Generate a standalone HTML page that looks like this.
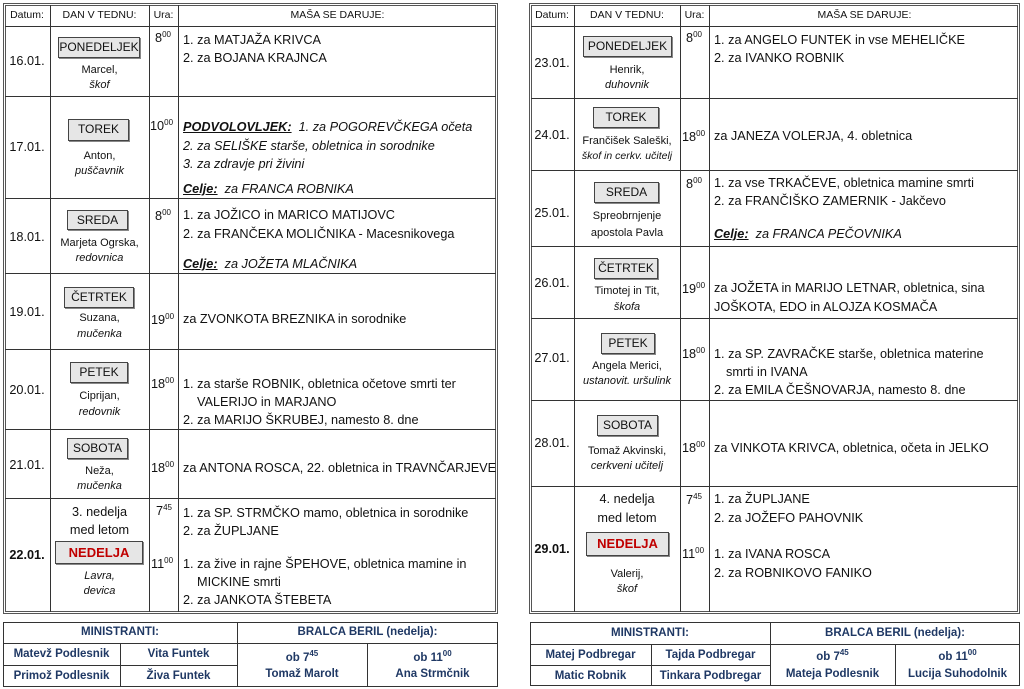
<!DOCTYPE html><html><head><meta charset="utf-8"><style>
body{margin:0;width:1024px;height:689px;background:#fff;position:relative;overflow:hidden;font-family:"Liberation Sans",sans-serif;color:#111}
.t{position:absolute;white-space:nowrap;line-height:14px;font-size:12.7px}
.c{text-align:center}
.h{font-size:10.5px}
.s{font-size:11px}
.i{font-style:italic}
.b{position:absolute;background:#e6e6e6;border:1px solid #444;box-shadow:1px 1px 0 #888;text-align:center;font-size:12px;line-height:18px;box-sizing:border-box}
.lv,.lh{position:absolute;background:#333}
.lv{width:1px}.lh{height:1px}
.o{position:absolute;border:3px double #555;box-sizing:border-box}
.f{position:absolute;border:1px solid #333;box-sizing:border-box}
.n{position:absolute;white-space:nowrap;line-height:14px;font-size:11.5px;font-weight:bold;color:#1f3864;text-align:center}
sup{font-size:8px;vertical-align:5px;line-height:0}
u{font-weight:bold}
</style></head><body>
<!-- LEFT TABLE -->
<div class="o" style="left:3px;top:3px;width:495px;height:611px"></div>
<div class="lv" style="left:50px;top:5px;height:607px"></div>
<div class="lv" style="left:149px;top:5px;height:607px"></div>
<div class="lv" style="left:178px;top:5px;height:607px"></div>
<div class="lh" style="left:5px;top:26px;width:491px"></div>
<div class="lh" style="left:5px;top:96px;width:491px"></div>
<div class="lh" style="left:5px;top:198px;width:491px"></div>
<div class="lh" style="left:5px;top:273px;width:491px"></div>
<div class="lh" style="left:5px;top:349px;width:491px"></div>
<div class="lh" style="left:5px;top:429px;width:491px"></div>
<div class="lh" style="left:5px;top:498px;width:491px"></div>
<div class="t c h" style="left:4px;width:46px;top:8px">Datum:</div>
<div class="t c h" style="left:50px;width:99px;top:8px">DAN V TEDNU:</div>
<div class="t c h" style="left:149px;width:29px;top:8px">Ura:</div>
<div class="t c h" style="left:178px;width:319px;top:8px">MAŠA SE DARUJE:</div>

<div class="t c" style="left:4px;width:46px;top:54px">16.01.</div>
<div class="b" style="left:58px;top:37px;width:82px;height:21px">PONEDELJEK</div>
<div class="t c s" style="left:50px;width:99px;top:63px">Marcel,</div>
<div class="t c s i" style="left:50px;width:99px;top:78px">škof</div>
<div class="t" style="left:155px;top:31px">8<sup>00</sup></div>
<div class="t" style="left:183px;top:33px">1. za MATJAŽA KRIVCA</div>
<div class="t" style="left:183px;top:51px">2. za BOJANA KRAJNCA</div>

<div class="t c" style="left:4px;width:46px;top:140px">17.01.</div>
<div class="b" style="left:68px;top:119px;width:61px;height:22px">TOREK</div>
<div class="t c s" style="left:50px;width:99px;top:149px">Anton,</div>
<div class="t c s i" style="left:50px;width:99px;top:164px">puščavnik</div>
<div class="t" style="left:150px;top:119px">10<sup>00</sup></div>
<div class="t i" style="left:183px;top:120px"><u>PODVOLOVLJEK:</u>&nbsp; 1. za POGOREVČKEGA očeta</div>
<div class="t i" style="left:183px;top:139px">2. za SELIŠKE starše, obletnica in sorodnike</div>
<div class="t i" style="left:183px;top:157px">3. za zdravje pri živini</div>
<div class="t i" style="left:183px;top:182px"><u>Celje:</u>&nbsp; za FRANCA ROBNIKA</div>

<div class="t c" style="left:4px;width:46px;top:230px">18.01.</div>
<div class="b" style="left:67px;top:210px;width:61px;height:20px">SREDA</div>
<div class="t c s" style="left:50px;width:99px;top:236px">Marjeta Ogrska,</div>
<div class="t c s i" style="left:50px;width:99px;top:251px">redovnica</div>
<div class="t" style="left:155px;top:209px">8<sup>00</sup></div>
<div class="t" style="left:183px;top:208px">1. za JOŽICO in MARICO MATIJOVC</div>
<div class="t" style="left:183px;top:227px">2. za FRANČEKA MOLIČNIKA - Macesnikovega</div>
<div class="t i" style="left:183px;top:257px"><u>Celje:</u>&nbsp; za JOŽETA MLAČNIKA</div>

<div class="t c" style="left:4px;width:46px;top:305px">19.01.</div>
<div class="b" style="left:64px;top:287px;width:70px;height:21px">ČETRTEK</div>
<div class="t c s" style="left:50px;width:99px;top:311px">Suzana,</div>
<div class="t c s i" style="left:50px;width:99px;top:327px">mučenka</div>
<div class="t" style="left:151px;top:313px">19<sup>00</sup></div>
<div class="t" style="left:183px;top:312px">za ZVONKOTA BREZNIKA in sorodnike</div>

<div class="t c" style="left:4px;width:46px;top:383px">20.01.</div>
<div class="b" style="left:70px;top:362px;width:58px;height:21px">PETEK</div>
<div class="t c s" style="left:50px;width:99px;top:389px">Ciprijan,</div>
<div class="t c s i" style="left:50px;width:99px;top:405px">redovnik</div>
<div class="t" style="left:151px;top:377px">18<sup>00</sup></div>
<div class="t" style="left:183px;top:377px">1. za starše ROBNIK, obletnica očetove smrti ter</div>
<div class="t" style="left:197px;top:395px">VALERIJO in MARJANO</div>
<div class="t" style="left:183px;top:413px">2. za MARIJO ŠKRUBEJ, namesto 8. dne</div>

<div class="t c" style="left:4px;width:46px;top:458px">21.01.</div>
<div class="b" style="left:67px;top:438px;width:61px;height:21px">SOBOTA</div>
<div class="t c s" style="left:50px;width:99px;top:464px">Neža,</div>
<div class="t c s i" style="left:50px;width:99px;top:479px">mučenka</div>
<div class="t" style="left:151px;top:461px">18<sup>00</sup></div>
<div class="t" style="left:183px;top:461px">za ANTONA ROSCA, 22. obletnica in TRAVNČARJEVE</div>

<div class="t c" style="left:4px;width:46px;top:548px;font-weight:bold">22.01.</div>
<div class="t c" style="left:50px;width:99px;top:505px">3. nedelja</div>
<div class="t c" style="left:50px;width:99px;top:523px">med letom</div>
<div class="b" style="left:55px;top:541px;width:88px;height:23px;color:#c00000;font-weight:bold;font-size:13px;line-height:21px">NEDELJA</div>
<div class="t c s i" style="left:50px;width:99px;top:569px">Lavra,</div>
<div class="t c s i" style="left:50px;width:99px;top:584px">devica</div>
<div class="t" style="left:156px;top:504px">7<sup>45</sup></div>
<div class="t" style="left:151px;top:557px">11<sup>00</sup></div>
<div class="t" style="left:183px;top:506px">1. za SP. STRMČKO mamo, obletnica in sorodnike</div>
<div class="t" style="left:183px;top:524px">2. za ŽUPLJANE</div>
<div class="t" style="left:183px;top:557px">1. za žive in rajne ŠPEHOVE, obletnica mamine in</div>
<div class="t" style="left:197px;top:575px">MICKINE smrti</div>
<div class="t" style="left:183px;top:593px">2. za JANKOTA ŠTEBETA</div>

<!-- LEFT FOOTER -->
<div class="f" style="left:3px;top:622px;width:495px;height:65px"></div>
<div class="lh" style="left:3px;top:643px;width:495px"></div>
<div class="lh" style="left:3px;top:665px;width:234px"></div>
<div class="lv" style="left:120px;top:643px;height:44px"></div>
<div class="lv" style="left:237px;top:622px;height:65px"></div>
<div class="lv" style="left:367px;top:643px;height:44px"></div>
<div class="n" style="left:3px;width:234px;top:625px">MINISTRANTI:</div>
<div class="n" style="left:237px;width:261px;top:625px">BRALCA BERIL (nedelja):</div>
<div class="n" style="left:3px;width:117px;top:647px">Matevž Podlesnik</div>
<div class="n" style="left:120px;width:117px;top:647px">Vita Funtek</div>
<div class="n" style="left:3px;width:117px;top:669px">Primož Podlesnik</div>
<div class="n" style="left:120px;width:117px;top:669px">Živa Funtek</div>
<div class="n" style="left:237px;width:130px;top:651px">ob 7<sup>45</sup></div>
<div class="n" style="left:237px;width:130px;top:667px">Tomaž Marolt</div>
<div class="n" style="left:367px;width:131px;top:651px">ob 11<sup>00</sup></div>
<div class="n" style="left:367px;width:131px;top:667px">Ana Strmčnik</div>

<!-- RIGHT TABLE -->
<div class="o" style="left:529px;top:3px;width:491px;height:611px"></div>
<div class="lv" style="left:574px;top:5px;height:607px"></div>
<div class="lv" style="left:680px;top:5px;height:607px"></div>
<div class="lv" style="left:709px;top:5px;height:607px"></div>
<div class="lh" style="left:531px;top:26px;width:487px"></div>
<div class="lh" style="left:531px;top:98px;width:487px"></div>
<div class="lh" style="left:531px;top:170px;width:487px"></div>
<div class="lh" style="left:531px;top:246px;width:487px"></div>
<div class="lh" style="left:531px;top:318px;width:487px"></div>
<div class="lh" style="left:531px;top:400px;width:487px"></div>
<div class="lh" style="left:531px;top:486px;width:487px"></div>
<div class="t c h" style="left:530px;width:44px;top:8px">Datum:</div>
<div class="t c h" style="left:574px;width:106px;top:8px">DAN V TEDNU:</div>
<div class="t c h" style="left:680px;width:29px;top:8px">Ura:</div>
<div class="t c h" style="left:709px;width:311px;top:8px">MAŠA SE DARUJE:</div>

<div class="t c" style="left:530px;width:44px;top:56px">23.01.</div>
<div class="b" style="left:583px;top:36px;width:89px;height:21px">PONEDELJEK</div>
<div class="t c s" style="left:574px;width:106px;top:63px">Henrik,</div>
<div class="t c s i" style="left:574px;width:106px;top:78px">duhovnik</div>
<div class="t" style="left:686px;top:31px">8<sup>00</sup></div>
<div class="t" style="left:714px;top:33px">1. za ANGELO FUNTEK in vse MEHELIČKE</div>
<div class="t" style="left:714px;top:51px">2. za IVANKO ROBNIK</div>

<div class="t c" style="left:530px;width:44px;top:128px">24.01.</div>
<div class="b" style="left:593px;top:107px;width:66px;height:21px">TOREK</div>
<div class="t c s" style="left:574px;width:106px;top:134px">Frančišek Saleški,</div>
<div class="t c s i" style="left:574px;width:106px;top:149px;font-size:10.5px">škof in cerkv. učitelj</div>
<div class="t" style="left:682px;top:130px">18<sup>00</sup></div>
<div class="t" style="left:714px;top:129px">za JANEZA VOLERJA, 4. obletnica</div>

<div class="t c" style="left:530px;width:44px;top:206px">25.01.</div>
<div class="b" style="left:594px;top:182px;width:65px;height:21px">SREDA</div>
<div class="t c s" style="left:574px;width:106px;top:209px">Spreobrnjenje</div>
<div class="t c s" style="left:574px;width:106px;top:226px">apostola Pavla</div>
<div class="t" style="left:686px;top:177px">8<sup>00</sup></div>
<div class="t" style="left:714px;top:176px">1. za vse TRKAČEVE, obletnica mamine smrti</div>
<div class="t" style="left:714px;top:194px">2. za FRANČIŠKO ZAMERNIK - Jakčevo</div>
<div class="t i" style="left:714px;top:227px"><u>Celje:</u>&nbsp; za FRANCA PEČOVNIKA</div>

<div class="t c" style="left:530px;width:44px;top:276px">26.01.</div>
<div class="b" style="left:594px;top:258px;width:64px;height:21px">ČETRTEK</div>
<div class="t c s" style="left:574px;width:106px;top:284px">Timotej in Tit,</div>
<div class="t c s i" style="left:574px;width:106px;top:300px">škofa</div>
<div class="t" style="left:682px;top:282px">19<sup>00</sup></div>
<div class="t" style="left:714px;top:281px">za JOŽETA in MARIJO LETNAR, obletnica, sina</div>
<div class="t" style="left:714px;top:300px">JOŠKOTA, EDO in ALOJZA KOSMAČA</div>

<div class="t c" style="left:530px;width:44px;top:351px">27.01.</div>
<div class="b" style="left:601px;top:333px;width:54px;height:21px">PETEK</div>
<div class="t c s" style="left:574px;width:106px;top:359px">Angela Merici,</div>
<div class="t c s i" style="left:574px;width:106px;top:374px">ustanovit. uršulink</div>
<div class="t" style="left:682px;top:347px">18<sup>00</sup></div>
<div class="t" style="left:714px;top:347px">1. za SP. ZAVRAČKE starše, obletnica materine</div>
<div class="t" style="left:726px;top:365px">smrti in IVANA</div>
<div class="t" style="left:714px;top:383px">2. za EMILA ČEŠNOVARJA, namesto 8. dne</div>

<div class="t c" style="left:530px;width:44px;top:436px">28.01.</div>
<div class="b" style="left:597px;top:415px;width:61px;height:21px">SOBOTA</div>
<div class="t c s" style="left:574px;width:106px;top:444px">Tomaž Akvinski,</div>
<div class="t c s i" style="left:574px;width:106px;top:459px">cerkveni učitelj</div>
<div class="t" style="left:682px;top:441px">18<sup>00</sup></div>
<div class="t" style="left:714px;top:441px">za VINKOTA KRIVCA, obletnica, očeta in JELKO</div>

<div class="t c" style="left:530px;width:44px;top:542px;font-weight:bold">29.01.</div>
<div class="t c" style="left:574px;width:106px;top:492px">4. nedelja</div>
<div class="t c" style="left:574px;width:106px;top:511px">med letom</div>
<div class="b" style="left:586px;top:532px;width:83px;height:24px;color:#c00000;font-weight:bold;font-size:13px;line-height:22px">NEDELJA</div>
<div class="t c s" style="left:574px;width:106px;top:567px">Valerij,</div>
<div class="t c s i" style="left:574px;width:106px;top:582px">škof</div>
<div class="t" style="left:686px;top:493px">7<sup>45</sup></div>
<div class="t" style="left:682px;top:547px">11<sup>00</sup></div>
<div class="t" style="left:714px;top:492px">1. za ŽUPLJANE</div>
<div class="t" style="left:714px;top:511px">2. za JOŽEFO PAHOVNIK</div>
<div class="t" style="left:714px;top:547px">1. za IVANA ROSCA</div>
<div class="t" style="left:714px;top:566px">2. za ROBNIKOVO FANIKO</div>

<!-- RIGHT FOOTER -->
<div class="f" style="left:530px;top:622px;width:490px;height:64px"></div>
<div class="lh" style="left:530px;top:644px;width:490px"></div>
<div class="lh" style="left:530px;top:665px;width:240px"></div>
<div class="lv" style="left:651px;top:644px;height:42px"></div>
<div class="lv" style="left:770px;top:622px;height:64px"></div>
<div class="lv" style="left:895px;top:644px;height:42px"></div>
<div class="n" style="left:530px;width:240px;top:626px">MINISTRANTI:</div>
<div class="n" style="left:770px;width:250px;top:626px">BRALCA BERIL (nedelja):</div>
<div class="n" style="left:530px;width:121px;top:648px">Matej Podbregar</div>
<div class="n" style="left:651px;width:119px;top:648px">Tajda Podbregar</div>
<div class="n" style="left:530px;width:121px;top:669px">Matic Robnik</div>
<div class="n" style="left:651px;width:119px;top:669px">Tinkara Podbregar</div>
<div class="n" style="left:770px;width:125px;top:650px">ob 7<sup>45</sup></div>
<div class="n" style="left:770px;width:125px;top:667px">Mateja Podlesnik</div>
<div class="n" style="left:895px;width:125px;top:650px">ob 11<sup>00</sup></div>
<div class="n" style="left:895px;width:125px;top:667px">Lucija Suhodolnik</div>
</body></html>
